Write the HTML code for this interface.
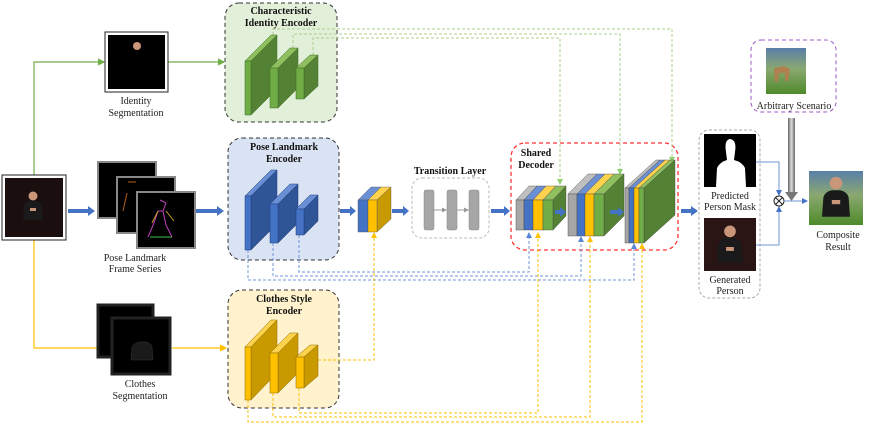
<!DOCTYPE html>
<html><head><meta charset="utf-8"><style>
html,body{margin:0;padding:0;background:#fff;}
svg{display:block;font-family:"Liberation Serif",serif;}
.t{font-size:10px;fill:#222;text-anchor:middle;}
.b{font-size:10px;font-weight:bold;fill:#111;text-anchor:middle;}
</style></head><body>
<svg width="872" height="424" viewBox="0 0 872 424" xmlns="http://www.w3.org/2000/svg">
<defs>
<marker id="ag" markerWidth="6" markerHeight="6" refX="5" refY="3" orient="auto"><path d="M0,0L6,3L0,6z" fill="#70ad47"/></marker>
<marker id="ao" markerWidth="6" markerHeight="6" refX="5" refY="3" orient="auto"><path d="M0,0L6,3L0,6z" fill="#ffc000"/></marker>
<marker id="ab" markerWidth="6" markerHeight="6" refX="5" refY="3" orient="auto"><path d="M0,0L6,3L0,6z" fill="#4472c4"/></marker>
<marker id="agl" markerWidth="6" markerHeight="6" refX="5" refY="3" orient="auto"><path d="M0,0L6,3L0,6z" fill="#8fcf6f"/></marker>
<marker id="abl" markerWidth="6" markerHeight="6" refX="5" refY="3" orient="auto"><path d="M0,0L6,3L0,6z" fill="#5b86d6"/></marker>
<marker id="aol" markerWidth="6" markerHeight="6" refX="5" refY="3" orient="auto"><path d="M0,0L6,3L0,6z" fill="#ffc000"/></marker>
<marker id="agr" markerWidth="5" markerHeight="5" refX="4" refY="2.5" orient="auto"><path d="M0,0L5,2.5L0,5z" fill="#999"/></marker>
<linearGradient id="gg" x1="0" x2="1"><stop offset="0" stop-color="#666"/><stop offset="0.5" stop-color="#ddd"/><stop offset="1" stop-color="#666"/></linearGradient>
<linearGradient id="sky" x1="0" y1="0" x2="0" y2="1"><stop offset="0" stop-color="#5a7fa8"/><stop offset="0.45" stop-color="#8aa870"/><stop offset="1" stop-color="#4f8a2a"/></linearGradient>
<g id="person"><circle cx="0" cy="-12" r="4.5" fill="#c9967a"/><path d="M-10,12 L-9,-2 Q-8,-6 -3,-7 L3,-7 Q8,-6 9,-2 L10,12z" fill="#1a1a1a"/><rect x="-3" y="0" width="6" height="3" fill="#c9967a"/></g>
</defs>

<!-- boxes -->
<rect x="225" y="3" width="112" height="119" rx="14" fill="#e2efd9" stroke="#333" stroke-dasharray="4,3"/>
<rect x="228" y="138" width="111" height="122" rx="14" fill="#dae3f3" stroke="#333" stroke-dasharray="4,3"/>
<rect x="228" y="290" width="111" height="118" rx="14" fill="#fff2cc" stroke="#333" stroke-dasharray="4,3"/>
<rect x="412" y="178" width="77" height="60" rx="10" fill="none" stroke="#bbb" stroke-dasharray="3,2"/>
<rect x="511" y="143" width="167" height="107" rx="14" fill="none" stroke="#f33" stroke-width="1.3" stroke-dasharray="4,3"/>
<rect x="699" y="130" width="61" height="168" rx="10" fill="none" stroke="#aaa" stroke-dasharray="3,2"/>
<rect x="751" y="40" width="85" height="72" rx="10" fill="none" stroke="#9b59c8" stroke-dasharray="4,3"/>

<text class="b" x="281" y="14">Characteristic</text>
<text class="b" x="281" y="26">Identity Encoder</text>
<text class="b" x="284" y="150">Pose Landmark</text>
<text class="b" x="284" y="162">Encoder</text>
<text class="b" x="284" y="302">Clothes Style</text>
<text class="b" x="284" y="314">Encoder</text>
<text class="b" x="450" y="174">Transition Layer</text>
<text class="b" x="536" y="156">Shared</text>
<text class="b" x="536" y="168">Decoder</text>

<!-- main connectors -->
<polyline points="34,175 34,62 104,62" fill="none" stroke="#70ad47" stroke-width="1.2" marker-end="url(#ag)"/>
<line x1="168" y1="62" x2="224" y2="62" stroke="#70ad47" stroke-width="1.2" marker-end="url(#ag)"/>
<polyline points="34,240 34,348 98,348" fill="none" stroke="#ffc000" stroke-width="1.2"/>
<line x1="172" y1="348" x2="226" y2="348" stroke="#ffc000" stroke-width="1.2" marker-end="url(#ao)"/>

<!-- skip green -->
<g fill="none" stroke="#a9d18e" stroke-dasharray="3,2">
<polyline points="273,35 273,29 672,29 672,162" marker-end="url(#agl)"/>
<polyline points="293,48 293,34 620,34 620,174" marker-end="url(#agl)"/>
<polyline points="313,55 313,38 560,38 560,184" marker-end="url(#agl)"/>
</g>
<!-- skip blue -->
<g fill="none" stroke="#6f95d8" stroke-dasharray="3,2">
<polyline points="299,235 299,272 529,272 529,233" marker-end="url(#abl)"/>
<polyline points="273,243 273,276 581,276 581,237" marker-end="url(#abl)"/>
<polyline points="248,250 248,280 634,280 634,244" marker-end="url(#abl)"/>
</g>
<!-- skip yellow -->
<g fill="none" stroke="#ffc000" stroke-dasharray="3,2">
<polyline points="318,360 374,360 374,233" marker-end="url(#aol)"/>
<polyline points="299,388 299,413 538,413 538,233" marker-end="url(#aol)"/>
<polyline points="273,393 273,417 590,417 590,237" marker-end="url(#aol)"/>
<polyline points="248,400 248,422 642,422 642,244" marker-end="url(#aol)"/>
</g>

<!-- encoder blocks -->
<g stroke="#3d6b25" stroke-width="0.5">
<polygon points="245,61 271,35 277,35 251,61" fill="#8fbf5f"/><polygon points="251,61 277,35 277,89 251,115" fill="#548235"/><rect x="245" y="61" width="6" height="54" fill="#70ad47"/>
<polygon points="270,68 290,48 298,48 278,68" fill="#8fbf5f"/><polygon points="278,68 298,48 298,88 278,108" fill="#548235"/><rect x="270" y="68" width="8" height="40" fill="#70ad47"/>
<polygon points="296,68 310,55 318,55 304,68" fill="#8fbf5f"/><polygon points="304,68 318,55 318,86 304,99" fill="#548235"/><rect x="296" y="68" width="8" height="31" fill="#70ad47"/>
</g>
<g stroke="#203d7a" stroke-width="0.5">
<polygon points="245,196 271,170 277,170 251,196" fill="#6a8fd4"/><polygon points="251,196 277,170 277,224 251,250" fill="#2f5597"/><rect x="245" y="196" width="6" height="54" fill="#4472c4"/>
<polygon points="270,204 290,184 298,184 278,204" fill="#6a8fd4"/><polygon points="278,204 298,184 298,223 278,243" fill="#2f5597"/><rect x="270" y="204" width="8" height="39" fill="#4472c4"/>
<polygon points="296,209 310,195 318,195 304,209" fill="#6a8fd4"/><polygon points="304,209 318,195 318,221 304,235" fill="#2f5597"/><rect x="296" y="209" width="8" height="26" fill="#4472c4"/>
</g>
<g stroke="#8a6a00" stroke-width="0.5">
<polygon points="245,347 271,320 277,320 251,347" fill="#ffd24d"/><polygon points="251,347 277,320 277,373 251,400" fill="#c99a00"/><rect x="245" y="347" width="6" height="53" fill="#ffc000"/>
<polygon points="270,353 290,333 298,333 278,353" fill="#ffd24d"/><polygon points="278,353 298,333 298,373 278,393" fill="#c99a00"/><rect x="270" y="353" width="8" height="40" fill="#ffc000"/>
<polygon points="296,357 310,345 318,345 304,357" fill="#ffd24d"/><polygon points="304,357 318,345 318,376 304,388" fill="#c99a00"/><rect x="296" y="357" width="8" height="31" fill="#ffc000"/>
</g>

<!-- small block -->
<g stroke="#555" stroke-width="0.4">
<polygon points="358,200 371,187 381,187 368,200" fill="#6a8fd4"/><polygon points="368,200 381,187 391,187 377,200" fill="#ffd24d"/>
<polygon points="377,200 391,187 391,219 377,232" fill="#c99a00"/>
<rect x="358" y="200" width="10" height="32" fill="#4472c4"/><rect x="368" y="200" width="9" height="32" fill="#ffc000"/>
</g>

<!-- transition bars -->
<g fill="#a6a6a6" stroke="#888" stroke-width="0.5">
<rect x="424" y="190" width="10" height="40" rx="2"/><rect x="447" y="190" width="10" height="40" rx="2"/><rect x="469" y="190" width="10" height="40" rx="2"/>
</g>
<line x1="434" y1="210" x2="446" y2="210" stroke="#999" marker-end="url(#agr)"/>
<line x1="457" y1="210" x2="468" y2="210" stroke="#999" marker-end="url(#agr)"/>

<!-- decoder blocks -->
<g stroke="#444" stroke-width="0.4">
<!-- block1 -->
<polygon points="516,200 529,186 537,186 524,200" fill="#bfbfbf"/>
<polygon points="524,200 537,186 546,186 533,200" fill="#6a8fd4"/>
<polygon points="533,200 546,186 556,186 543,200" fill="#ffd24d"/>
<polygon points="543,200 556,186 566,186 553,200" fill="#8fbf5f"/>
<polygon points="553,200 566,186 566,216 553,230" fill="#548235"/>
<rect x="516" y="200" width="8" height="30" fill="#a6a6a6"/><rect x="524" y="200" width="9" height="30" fill="#4472c4"/><rect x="533" y="200" width="10" height="30" fill="#ffc000"/><rect x="543" y="200" width="10" height="30" fill="#70ad47"/>
<!-- block2 -->
<polygon points="568,194 588,174 597,174 577,194" fill="#bfbfbf"/>
<polygon points="577,194 597,174 605,174 585,194" fill="#6a8fd4"/>
<polygon points="585,194 605,174 614,174 594,194" fill="#ffd24d"/>
<polygon points="594,194 614,174 624,174 604,194" fill="#8fbf5f"/>
<polygon points="604,194 624,174 624,216 604,236" fill="#548235"/>
<rect x="568" y="194" width="9" height="42" fill="#a6a6a6"/><rect x="577" y="194" width="8" height="42" fill="#4472c4"/><rect x="585" y="194" width="9" height="42" fill="#ffc000"/><rect x="594" y="194" width="10" height="42" fill="#70ad47"/>
<!-- block3 -->
<polygon points="625,188 656,160 660,160 629,188" fill="#bfbfbf"/>
<polygon points="629,188 660,160 665,160 634,188" fill="#6a8fd4"/>
<polygon points="634,188 665,160 670,160 639,188" fill="#ffd24d"/>
<polygon points="639,188 670,160 675,160 644,188" fill="#8fbf5f"/>
<polygon points="644,188 675,160 675,215 644,243" fill="#548235"/>
<rect x="625" y="188" width="4" height="55" fill="#a6a6a6"/><rect x="629" y="188" width="5" height="55" fill="#4472c4"/><rect x="634" y="188" width="5" height="55" fill="#ffc000"/><rect x="639" y="188" width="5" height="55" fill="#70ad47"/>
</g>

<!-- thick blue arrows -->
<g fill="#4472c4">
<path d="M68,209h20v-3l7,5l-7,5v-3h-20z"/>
<path d="M196,209h21v-3l7,5l-7,5v-3h-21z"/>
<path d="M340,209h10v-3l6,5l-6,5v-3h-10z"/>
<path d="M392,209h11v-3l6,5l-6,5v-3h-11z"/>
<path d="M491,209h13v-3l6,5l-6,5v-3h-13z"/>
<path d="M555,210h5v-3l6,5l-6,5v-3h-5z"/>
<path d="M610,210h8v-3l6,5l-6,5v-3h-8z"/>
<path d="M681,209h10v-3l7,5l-7,5v-3h-10z"/>
</g>

<!-- input image -->
<rect x="2" y="175" width="64" height="65" fill="#fff" stroke="#222"/>
<rect x="5" y="178" width="58" height="59" fill="#1a0e0e"/>
<use href="#person" transform="translate(33,208)"/>

<!-- identity image -->
<rect x="105" y="32" width="63" height="60" fill="#fff" stroke="#222"/>
<rect x="108" y="35" width="57" height="54" fill="#000"/>
<circle cx="137" cy="46" r="4" fill="#c9967a"/>
<text class="t" x="136" y="104">Identity</text>
<text class="t" x="136" y="116">Segmentation</text>

<!-- pose frames -->
<g>
<rect x="98" y="162" width="58" height="56" fill="#000" stroke="#888" stroke-width="2"/>
<rect x="117" y="177" width="58" height="56" fill="#000" stroke="#888" stroke-width="2"/>
<rect x="137" y="192" width="58" height="56" fill="#000" stroke="#888" stroke-width="2"/>
<path d="M160,200l6,3l-3,8l-5,0l-4,12l-6,14M163,211l3,14l6,12" stroke="#c040c0" fill="none" stroke-width="1"/>
<path d="M158,211l-6,12M166,211l8,10" stroke="#c8a020" fill="none"/>
<path d="M150,237l22,0" stroke="#40c040" fill="none"/>
<path d="M128,182l8,0M127,193l-4,18" stroke="#b06020" fill="none"/>
</g>
<text class="t" x="135" y="261">Pose Landmark</text>
<text class="t" x="135" y="272">Frame Series</text>

<!-- clothes frames -->
<rect x="98" y="305" width="55" height="52" fill="#000" stroke="#fff" stroke-width="1"/>
<rect x="98" y="305" width="55" height="52" fill="none" stroke="#222" stroke-width="3"/>
<rect x="112" y="318" width="58" height="56" fill="#000" stroke="#222" stroke-width="3"/>
<path d="M131,360 L132,347 Q134,343 140,342 L146,342 Q151,343 152,347 L153,360z" fill="#1a1a1a" stroke="#333" stroke-width="0.5"/>
<text class="t" x="140" y="387">Clothes</text>
<text class="t" x="140" y="399">Segmentation</text>

<!-- output -->
<rect x="704" y="134" width="52" height="53" fill="#000"/>
<path d="M716,187 L717,168 Q720,162 727,160 L726,152 Q724,140 730,139 Q737,140 735,152 L734,160 Q742,162 745,168 L746,187z" fill="#fff"/>
<text class="t" x="730" y="199">Predicted</text>
<text class="t" x="730" y="210">Person Mask</text>
<rect x="704" y="218" width="52" height="53" fill="#2a1414"/>
<use href="#person" transform="translate(730,247) scale(1.3)"/>
<text class="t" x="730" y="283">Generated</text>
<text class="t" x="730" y="294">Person</text>

<polyline points="756,162 779,162 779,195" fill="none" stroke="#6f95d8" marker-end="url(#ab)"/>
<polyline points="756,245 779,245 779,207" fill="none" stroke="#6f95d8" marker-end="url(#ab)"/>
<circle cx="779" cy="201" r="5" fill="#fff" stroke="#222"/>
<path d="M775.5,197.5l7,7M782.5,197.5l-7,7" stroke="#222"/>
<line x1="784" y1="201" x2="807" y2="201" stroke="#6f95d8" marker-end="url(#ab)"/>

<!-- scenario -->
<rect x="766" y="48" width="40" height="46" fill="url(#sky)"/>
<path d="M774,68l10,-2l6,3l-2,12l-3,0l0,-8l-6,0l-1,9l-3,0z" fill="#b08050"/>
<text class="t" x="794" y="109">Arbitrary Scenario</text>
<rect x="788" y="118" width="7" height="75" fill="url(#gg)"/>
<path d="M785,192h13l-6.5,9z" fill="#777"/>

<!-- composite -->
<rect x="809" y="171" width="54" height="54" fill="url(#sky)"/>
<use href="#person" transform="translate(836,200) scale(1.4)"/>
<text class="t" x="838" y="238">Composite</text>
<text class="t" x="838" y="250">Result</text>
</svg>
</body></html>
